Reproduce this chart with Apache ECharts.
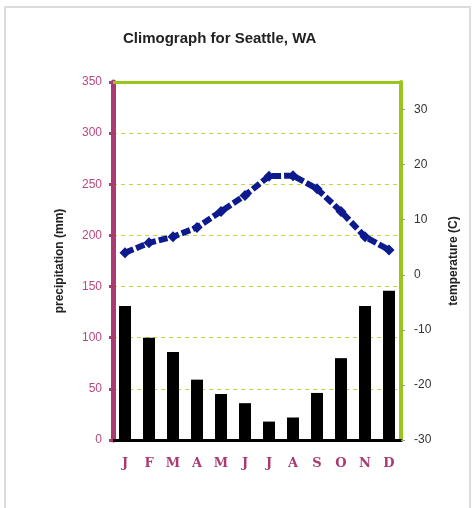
<!DOCTYPE html>
<html>
<head>
<meta charset="utf-8">
<script src="https://cdn.jsdelivr.net/npm/echarts@6/dist/echarts.min.js"></script>
<style>
  html, body { margin: 0; padding: 0; background: #fff; }
  #chart { width: 476px; height: 508px; }
</style>
</head>
<body>
<div id="chart"></div>
<script>
const months = ['J', 'F', 'M', 'A', 'M', 'J', 'J', 'A', 'S', 'O', 'N', 'D']
// precipitation (mm)
const precipitation = [131, 100, 86, 59, 45, 36, 18, 22, 46, 80, 131, 146]
// temperature (C)
const temperature = [4, 5.8, 6.9, 8.6, 11.5, 14.4, 17.9, 18, 15.6, 11.5, 6.9, 4.5]

const purple = '#a93a72'
const green = '#99c61a'

const chart = echarts.init(document.getElementById('chart'))
const option = {
  animation: false,
  title: {
    text: 'Climograph for Seattle, WA',
    left: 118,
    top: 26,
    textStyle: { fontFamily: 'Liberation Sans', fontSize: 15, fontWeight: 'bold', color: '#222' },
  },
  graphic: [
    {
      type: 'rect',
      shape: { x: 5, y: 7, width: 465, height: 520 },
      style: { fill: 'none', stroke: '#dcdcdc', lineWidth: 2 },
    },
  ],
  grid: { left: 113, right: 75, top: 82, bottom: 68 },
  xAxis: [
    {
      type: 'category',
      data: months,
      axisLine: { onZero: false, lineStyle: { color: '#000', width: 3 } },
      axisTick: { show: false },
      axisLabel: {
        color: purple,
        fontFamily: 'DejaVu Serif',
        fontWeight: 'bold',
        fontSize: 13,
        margin: 17,
      },
    },
    {
      type: 'category',
      data: months,
      position: 'top',
      axisLine: { onZero: false, lineStyle: { color: green, width: 3 } },
      axisTick: { show: false },
      axisLabel: { show: false },
    },
  ],
  yAxis: [
    {
      type: 'value',
      min: 0,
      max: 350,
      interval: 50,
      name: 'precipitation (mm)',
      nameLocation: 'middle',
      nameRotate: 90,
      nameGap: 47,
      nameTextStyle: { fontFamily: 'Liberation Sans', fontSize: 12, fontWeight: 'bold', color: '#222' },
      axisLine: { show: true, lineStyle: { color: purple, width: 5 } },
      axisTick: { show: true, length: 4, lineStyle: { color: purple, width: 3 } },
      axisLabel: { color: '#b8497e', fontFamily: 'Liberation Sans', fontSize: 12, margin: 11 },
      splitLine: { lineStyle: { color: '#b9d84a', type: [4, 4], width: 1 } },
    },
    {
      type: 'value',
      min: -30,
      max: 35,
      interval: 10,
      position: 'right',
      name: 'temperature (C)',
      nameLocation: 'middle',
      nameRotate: 90,
      nameGap: 47,
      nameTextStyle: { fontFamily: 'Liberation Sans', fontSize: 12, fontWeight: 'bold', color: '#222' },
      axisLine: { show: true, lineStyle: { color: green, width: 4 } },
      axisTick: { show: true, length: 4, lineStyle: { color: '#999' } },
      axisLabel: { color: '#333', fontFamily: 'Liberation Sans', fontSize: 12, margin: 13, showMaxLabel: false },
      splitLine: { show: false },
    },
  ],
  series: [
    {
      name: 'precipitation',
      type: 'bar',
      data: precipitation,
      barWidth: 12,
      itemStyle: { color: '#000' },
    },
    {
      name: 'temperature',
      type: 'line',
      yAxisIndex: 1,
      data: temperature,
      symbol: 'diamond',
      symbolSize: 11,
      itemStyle: { color: '#0c1a8e' },
      lineStyle: { color: '#0c1a8e', width: 6, type: [9, 3] },
    },
  ],
}
chart.setOption(option)
</script>
</body>
</html>
